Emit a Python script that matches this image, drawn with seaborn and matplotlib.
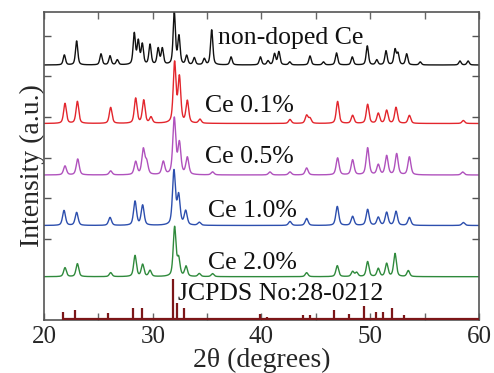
import numpy as np
import pandas as pd
import matplotlib
matplotlib.use("Agg")
import matplotlib.pyplot as plt
import seaborn as sns

# ---- data -------------------------------------------------------------
TT_MIN, TT_MAX = 20, 60
Y_STEP = 40.6                       # spacing of the intensity ticks (a.u.)

samples = ["non-doped Ce", "Ce 0.1%", "Ce 0.5%", "Ce 1.0%", "Ce 2.0%"]
colors = ["#111111", "#e3262d", "#b052bd", "#2d4fae", "#2f8a3c"]
offsets = [255, 196.5, 145, 94.5, 43.3]
widths = [0.25, 0.3, 0.32, 0.32, 0.3]       # FWHM of the reflections (deg)

# reflection positions (2theta, deg) and heights (a.u.) per sample
nd_pos = [21.87, 23.0, 25.24, 26.07, 26.74, 28.3, 28.67, 29.04, 29.75, 30.5,
          30.88, 31.98, 32.41, 33.12, 33.82, 34.74, 35.42, 37.2, 39.9, 40.6,
          41.2, 41.6, 42.6, 44.46, 45.7, 46.9, 48.35, 49.73, 50.6, 51.45,
          52.28, 52.55, 53.35, 54.6, 58.25, 59.0]
nd_int = [10, 24, 11, 9, 5, 31, 23, 20, 20, 16,
          16, 52, 28, 9, 7, 6, 35, 8, 8, 4,
          11, 13, 3, 9, 3, 12, 8, 19, 5, 14,
          15, 11, 11, 3, 4, 4]

c01_pos = [21.93, 23.07, 26.13, 28.43, 29.17, 29.84, 32.01, 32.45, 33.18, 34.34,
           42.62, 44.15, 44.46, 47.0, 48.38, 49.76, 50.74, 51.51, 52.37, 53.6, 58.56]
c01_int = [20, 22, 16, 25, 23, 6, 60, 45, 22, 4,
           4, 8, 5, 22, 8, 19, 10, 13, 16, 8, 3]

c05_pos = [21.93, 23.1, 26.13, 28.43, 29.13, 29.44, 30.97, 31.98, 32.45, 33.18,
           35.5, 40.78, 42.62, 44.15, 47.0, 48.38, 49.76, 50.74, 51.51, 52.43, 53.6, 58.5]
c05_int = [9, 16, 4, 13, 25, 12, 13, 56, 31, 17,
           3, 3, 3, 7, 17, 15, 27, 10, 19, 21, 18, 3]

c10_pos = [21.84, 23.0, 26.07, 28.37, 29.07, 31.95, 32.38, 33.03, 34.28,
           42.62, 44.15, 46.97, 48.38, 49.76, 50.74, 51.51, 52.37, 53.6, 58.56]
c10_int = [15, 13, 8, 24, 20, 54, 29, 14, 3,
           4, 7, 19, 9, 16, 8, 13, 14, 8, 3]

c20_pos = [21.93, 23.07, 26.13, 28.37, 29.07, 29.75, 32.01, 32.38, 33.06, 34.28,
           35.5, 44.15, 46.97, 48.38, 48.75, 49.76, 50.74, 51.51, 52.28, 53.5]
c20_int = [9, 13, 4, 21, 12, 6, 49, 17, 10, 3,
           3, 4, 11, 5, 4, 15, 8, 13, 23, 6]

peak_pos = [nd_pos, c01_pos, c05_pos, c10_pos, c20_pos]
peak_int = [nd_int, c01_int, c05_int, c10_int, c20_int]

# JCPDS No:28-0212 reference lines (2theta, relative intensity %)
ref_pos = [21.78, 22.85, 25.9, 28.15, 28.98, 31.83, 32.2, 32.9, 39.9, 40.47,
           42.3, 43.85, 44.46, 46.67, 48.08, 48.6, 49.43, 50.53, 51.2, 52.03,
           53.1, 58.1]
ref_int = [20, 24, 17, 29, 29, 100, 41, 29, 15, 7,
           5, 12, 12, 24, 15, 5, 34, 20, 20, 29,
           12, 5]
REF_SCALE = 0.41                    # a.u. per % for the stick pattern


def pseudo_voigt(tt, centers, heights, fwhm, eta=0.5):
    """Sum of pseudo-Voigt reflections evaluated on the 2theta grid."""
    out = np.zeros_like(tt)
    hw = fwhm / 2.0
    sig = fwhm / (2.0 * np.sqrt(2.0 * np.log(2.0)))
    for c, h in zip(centers, heights):
        lor = 1.0 / (1.0 + ((tt - c) / hw) ** 2)
        gau = np.exp(-0.5 * ((tt - c) / sig) ** 2)
        out += h * (eta * lor + (1 - eta) * gau)
    return out


tt = np.linspace(TT_MIN, TT_MAX, 4001)
frames = []
for name, off, pos, inten, w in zip(samples, offsets, peak_pos, peak_int, widths):
    frames.append(pd.DataFrame({
        "two_theta": tt,
        "intensity": off + pseudo_voigt(tt, pos, inten, w),
        "sample": name,
    }))
df = pd.concat(frames, ignore_index=True)

# ---- figure -----------------------------------------------------------
sns.set_theme(style="ticks")
plt.rcParams["font.family"] = ["Liberation Serif", "DejaVu Serif"]

fig = plt.figure(figsize=(4.94, 3.73), dpi=100)
ax = fig.add_axes([0.0891, 0.1421, 0.9696 - 0.0891, 0.9678 - 0.1421])

sns.lineplot(data=df, x="two_theta", y="intensity", hue="sample",
             hue_order=samples, palette=colors, estimator=None,
             linewidth=1.0, legend=False, ax=ax)

# reference stick pattern
ref_h = np.asarray(ref_int) * REF_SCALE
ax.vlines(ref_pos, 0, ref_h, color="#7c1618", linewidth=1.6, zorder=3)
ax.hlines(0.6, ref_pos[0], TT_MAX, color="#7c1618", linewidth=1.6, zorder=3)

# sample labels
label_xy = [(36.0, 6.95), (34.8, 5.27), (34.8, 4.01), (35.1, 2.68), (35.1, 1.40)]
for name, (lx, ly) in zip(samples, label_xy):
    ax.text(lx, ly * Y_STEP, name, fontsize=18.5, ha="left", va="center",
            color="#111111")
ax.text(32.3, 0.64 * Y_STEP, "JCPDS No:28-0212", fontsize=18.5, ha="left",
        va="center", color="#111111")

ax.set_xlim(TT_MIN, TT_MAX)
ax.set_ylim(0, 308)
ax.set_xticks([20, 30, 40, 50, 60])
ax.set_xticks([25, 35, 45, 55], minor=True)
ax.set_yticks(np.arange(2, 8) * Y_STEP)
ax.set_yticklabels([])

ax.tick_params(axis="x", which="both", direction="in", top=True, bottom=True,
               length=5, width=1.0, color="#666666", labelsize=18, pad=4)
ax.tick_params(axis="y", which="both", direction="in", left=True, right=True,
               length=5, width=1.0, color="#555555")

for s in ax.spines.values():
    s.set_color("#555555")
    s.set_linewidth(1.2)

ax.set_xlabel("2θ (degrees)", fontsize=20, labelpad=0)
ax.set_ylabel("Intensity (a.u.)", fontsize=20, labelpad=-4)

fig.savefig("out.png", dpi=100)
